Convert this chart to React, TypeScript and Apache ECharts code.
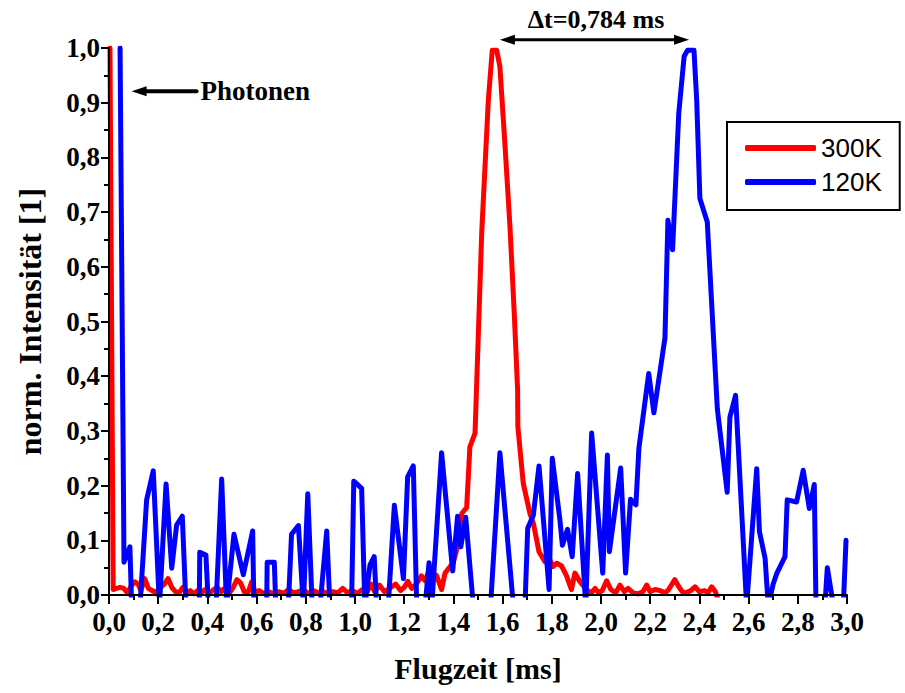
import React, { useEffect, useRef } from "react";
import * as echarts from "echarts";

const seriesNames = ["300K", "120K"];

// 300K (red): [Flugzeit ms, norm. Intensität]
const red300K: [number, number][] = [
  [0.004, 1.0], [0.017, 0.01], [0.03, 0.012], [0.045, 0.014], [0.06, 0.012], [0.075, 0.004],
  [0.09, 0.016], [0.105, 0.024], [0.118, 0.02], [0.13, 0.008], [0.145, 0.03], [0.16, 0.012],
  [0.175, 0.008], [0.19, 0.005], [0.205, 0.012], [0.225, 0.02], [0.24, 0.03], [0.255, 0.014],
  [0.27, 0.006], [0.285, 0.004], [0.3, 0.014], [0.315, 0.004], [0.33, 0.008], [0.345, 0.002],
  [0.36, 0.008], [0.375, 0.004], [0.39, 0.01], [0.41, 0.004], [0.425, 0.01], [0.44, 0.014],
  [0.455, 0.006], [0.47, 0.012], [0.49, 0.004], [0.505, 0.014], [0.52, 0.028], [0.535, 0.022],
  [0.55, 0.006], [0.565, 0.004], [0.58, 0.024], [0.595, 0.004], [0.61, 0.008], [0.63, 0.003],
  [0.65, 0.006], [0.67, 0.002], [0.69, 0.006], [0.71, 0.003], [0.73, 0.01], [0.75, 0.004],
  [0.77, 0.006], [0.79, 0.01], [0.81, 0.003], [0.83, 0.008], [0.85, 0.004], [0.87, 0.006],
  [0.89, 0.003], [0.91, 0.006], [0.93, 0.004], [0.95, 0.012], [0.97, 0.004], [0.99, 0.008],
  [1.01, 0.003], [1.03, 0.01], [1.05, 0.006], [1.065, 0.02], [1.08, 0.006], [1.1, 0.018],
  [1.12, 0.006], [1.14, 0.012], [1.165, 0.02], [1.185, 0.008], [1.2, 0.014], [1.215, 0.025],
  [1.23, 0.012], [1.25, 0.02], [1.27, 0.035], [1.285, 0.026], [1.305, 0.048], [1.32, 0.04],
  [1.332, 0.035], [1.352, 0.01], [1.366, 0.04], [1.378, 0.047], [1.4, 0.06], [1.413, 0.082],
  [1.434, 0.149], [1.454, 0.16], [1.467, 0.271], [1.488, 0.296], [1.515, 0.661], [1.542, 0.905],
  [1.558, 0.996], [1.576, 0.996], [1.589, 0.966], [1.61, 0.82], [1.63, 0.673], [1.648, 0.509],
  [1.661, 0.375], [1.662, 0.308], [1.684, 0.204], [1.711, 0.149], [1.725, 0.131], [1.748, 0.079],
  [1.772, 0.061], [1.79, 0.066], [1.806, 0.052], [1.82, 0.058], [1.84, 0.053], [1.86, 0.035],
  [1.88, 0.01], [1.894, 0.04], [1.915, 0.024], [1.94, 0.01], [1.96, 0.004], [1.976, 0.012],
  [1.99, 0.004], [2.005, 0.008], [2.023, 0.026], [2.04, 0.01], [2.06, 0.004], [2.077, 0.018],
  [2.095, 0.006], [2.11, 0.012], [2.13, 0.004], [2.15, 0.002], [2.17, 0.006], [2.186, 0.018],
  [2.2, 0.006], [2.22, 0.01], [2.24, 0.008], [2.26, 0.004], [2.275, 0.01], [2.3, 0.028],
  [2.315, 0.016], [2.33, 0.006], [2.345, 0.004], [2.365, 0.008], [2.382, 0.015], [2.4, 0.006],
  [2.42, 0.008], [2.435, 0.004], [2.45, 0.015], [2.465, 0.006], [2.477, -0.01],
];

// 120K (blue); readings below the axis are clipped by the plot area
const blue120K: [number, number][] = [
  [0.045, 1.0], [0.061, 0.06], [0.085, 0.088], [0.092, -0.02], [0.126, -0.02], [0.153, 0.174],
  [0.18, 0.227], [0.205, -0.02], [0.232, 0.203], [0.255, 0.049], [0.275, 0.128], [0.298, 0.144],
  [0.313, -0.02], [0.367, -0.02], [0.369, 0.078], [0.394, 0.073], [0.404, -0.02], [0.435, -0.02],
  [0.458, 0.212], [0.478, -0.02], [0.508, 0.111], [0.546, 0.037], [0.584, 0.117], [0.589, -0.02],
  [0.641, -0.02], [0.643, 0.06], [0.672, 0.06], [0.678, -0.02], [0.729, -0.02], [0.742, 0.111],
  [0.77, 0.127], [0.79, -0.02], [0.808, 0.185], [0.826, -0.02], [0.858, -0.02], [0.885, 0.117],
  [0.898, -0.02], [0.986, -0.02], [0.995, 0.208], [1.027, 0.195], [1.04, -0.02], [1.061, 0.055],
  [1.078, 0.07], [1.088, -0.02], [1.135, -0.02], [1.16, 0.164], [1.197, 0.03], [1.214, 0.216],
  [1.237, 0.236], [1.251, -0.02], [1.285, -0.02], [1.301, 0.059], [1.312, -0.02], [1.352, 0.26],
  [1.397, 0.044], [1.417, 0.144], [1.43, 0.088], [1.45, 0.142], [1.481, -0.02], [1.551, -0.02],
  [1.589, 0.26], [1.644, -0.02], [1.691, -0.02], [1.702, 0.122], [1.725, 0.146], [1.748, 0.236],
  [1.789, 0.01], [1.802, 0.25], [1.833, 0.137], [1.843, 0.091], [1.864, 0.12], [1.883, 0.07],
  [1.905, 0.222], [1.938, -0.02], [1.962, 0.296], [2.007, 0.04], [2.026, 0.256], [2.034, 0.079],
  [2.08, 0.232], [2.1, 0.04], [2.12, 0.175], [2.142, 0.165], [2.154, 0.268], [2.194, 0.405],
  [2.215, 0.333], [2.26, 0.47], [2.272, 0.685], [2.291, 0.631], [2.316, 0.88], [2.338, 0.985],
  [2.352, 0.996], [2.378, 0.996], [2.389, 0.905], [2.402, 0.725], [2.432, 0.682], [2.473, 0.34],
  [2.513, 0.188], [2.524, 0.325], [2.547, 0.365], [2.592, -0.02], [2.633, 0.231], [2.644, 0.116],
  [2.667, 0.067], [2.68, -0.02], [2.7, 0.02], [2.715, 0.04], [2.748, 0.07], [2.757, 0.174],
  [2.795, 0.17], [2.822, 0.228], [2.847, 0.158], [2.867, 0.202], [2.874, -0.02], [2.91, -0.02],
  [2.92, 0.05], [2.945, -0.02], [2.985, -0.02], [2.996, 0.1],
];

const xAxisTitle = "Flugzeit [ms]";
const yAxisTitle = "norm. Intensität [1]";
const photonLabel = "Photonen";
const photonArrowFrom: [number, number] = [0.356, 0.921];
const photonArrowTo: [number, number] = [0.092, 0.921];
const deltaLabel = "Δt=0,784 ms";
const deltaArrowFrom: [number, number] = [1.589, 1.015];
const deltaArrowTo: [number, number] = [2.358, 1.015];
const deltaLabelAt: [number, number] = [1.98, 1.053];

const SERIF = "'Liberation Serif', 'Times New Roman', serif";
const SANS = "'Liberation Sans', Arial, sans-serif";

export default function App() {
  const ref = useRef<HTMLDivElement>(null);
  useEffect(() => {
    const chart = echarts.init(ref.current!, null, { renderer: "svg" });
    const fmt = (v: number) => v.toFixed(1).replace(".", ",");
    chart.setOption({
      animation: false,
      backgroundColor: "#ffffff",
      grid: { left: 109, right: 58, top: 48, bottom: 98, outerBoundsMode: "none", containLabel: false },
      legend: {
        data: seriesNames.map((n) => ({ name: n, icon: "roundRect" })),
        left: 727,
        top: 122,
        orient: "vertical",
        selectedMode: false,
        borderColor: "#000",
        borderWidth: 2,
        borderRadius: 0,
        padding: [12, 18, 14, 18],
        itemGap: 6,
        itemWidth: 71,
        itemHeight: 6,
        textStyle: { fontFamily: SANS, fontSize: 26, color: "#000", lineHeight: 28 },
      },
      xAxis: {
        type: "value",
        min: 0,
        max: 3,
        interval: 0.2,
        z: 10,
        name: xAxisTitle,
        nameLocation: "middle",
        nameGap: 58,
        nameTextStyle: { fontFamily: SERIF, fontWeight: "bold", fontSize: 30, color: "#000" },
        axisLine: { onZero: false, lineStyle: { color: "#000", width: 2 } },
        axisTick: { show: true, inside: false, length: 9, lineStyle: { color: "#000", width: 2 } },
        minorTick: { show: true, splitNumber: 2, length: 5, lineStyle: { color: "#000", width: 2 } },
        splitLine: { show: false },
        axisLabel: {
          formatter: fmt,
          margin: 13,
          fontFamily: SERIF,
          fontWeight: "bold",
          fontSize: 27,
          color: "#000",
        },
      },
      yAxis: {
        type: "value",
        min: 0,
        max: 1,
        interval: 0.1,
        z: 10,
        name: yAxisTitle,
        nameLocation: "middle",
        nameGap: 63,
        nameTextStyle: { fontFamily: SERIF, fontWeight: "bold", fontSize: 32, color: "#000" },
        axisLine: { show: true, lineStyle: { color: "#000", width: 2 } },
        axisTick: { show: true, inside: false, length: 8, lineStyle: { color: "#000", width: 2 } },
        minorTick: { show: true, splitNumber: 2, length: 5, lineStyle: { color: "#000", width: 2 } },
        splitLine: { show: false },
        axisLabel: {
          formatter: fmt,
          margin: 9,
          fontFamily: SERIF,
          fontWeight: "bold",
          fontSize: 27,
          color: "#000",
        },
      },
      series: [
        {
          name: seriesNames[0],
          type: "line",
          data: red300K,
          symbol: "none",
          clip: true,
          color: "#ff0000",
          lineStyle: { color: "#ff0000", width: 5, cap: "round", join: "round" },
          z: 2,
        },
        {
          name: seriesNames[1],
          type: "line",
          data: blue120K,
          symbol: "none",
          clip: true,
          color: "#0000ff",
          lineStyle: { color: "#0000ff", width: 5, cap: "round", join: "round" },
          z: 3,
        },
      ],
    });

    const px = (v: [number, number]) => chart.convertToPixel({ gridIndex: 0 }, v) as number[];
    const pA = px(photonArrowFrom);
    const pB = px(photonArrowTo);
    const dA = px(deltaArrowFrom);
    const dB = px(deltaArrowTo);
    const dL = px(deltaLabelAt);
    const headL = 15;
    const headH = 5;

    chart.setOption({
      graphic: [
        {
          type: "line",
          shape: { x1: pA[0], y1: pA[1], x2: pB[0] + headL - 2, y2: pB[1] },
          style: { stroke: "#000", lineWidth: 4, lineCap: "round" },
        },
        {
          type: "polygon",
          shape: { points: [[pB[0], pB[1]], [pB[0] + headL, pB[1] - headH], [pB[0] + headL, pB[1] + headH]] },
          style: { fill: "#000" },
        },
        {
          type: "text",
          x: pA[0] + 4,
          y: pA[1],
          style: {
            text: photonLabel,
            fontFamily: SERIF,
            fontWeight: "bold",
            fontSize: 27,
            fill: "#000",
            verticalAlign: "middle",
            align: "left",
          },
        },
        {
          type: "line",
          shape: { x1: dA[0] + headL - 2, y1: dA[1], x2: dB[0] - headL + 2, y2: dB[1] },
          style: { stroke: "#000", lineWidth: 3 },
        },
        {
          type: "polygon",
          shape: { points: [[dA[0], dA[1]], [dA[0] + headL, dA[1] - headH], [dA[0] + headL, dA[1] + headH]] },
          style: { fill: "#000" },
        },
        {
          type: "polygon",
          shape: { points: [[dB[0], dB[1]], [dB[0] - headL, dB[1] - headH], [dB[0] - headL, dB[1] + headH]] },
          style: { fill: "#000" },
        },
        {
          type: "text",
          x: dL[0],
          y: dL[1],
          style: {
            text: deltaLabel,
            fontFamily: SERIF,
            fontWeight: "bold",
            fontSize: 26,
            fill: "#000",
            verticalAlign: "middle",
            align: "center",
          },
        },
      ],
    });

    return () => chart.dispose();
  }, []);
  return (
    <div
      ref={ref}
      style={{ position: "fixed", left: 0, top: 0, width: 905, height: 693, background: "#fff" }}
    />
  );
}
